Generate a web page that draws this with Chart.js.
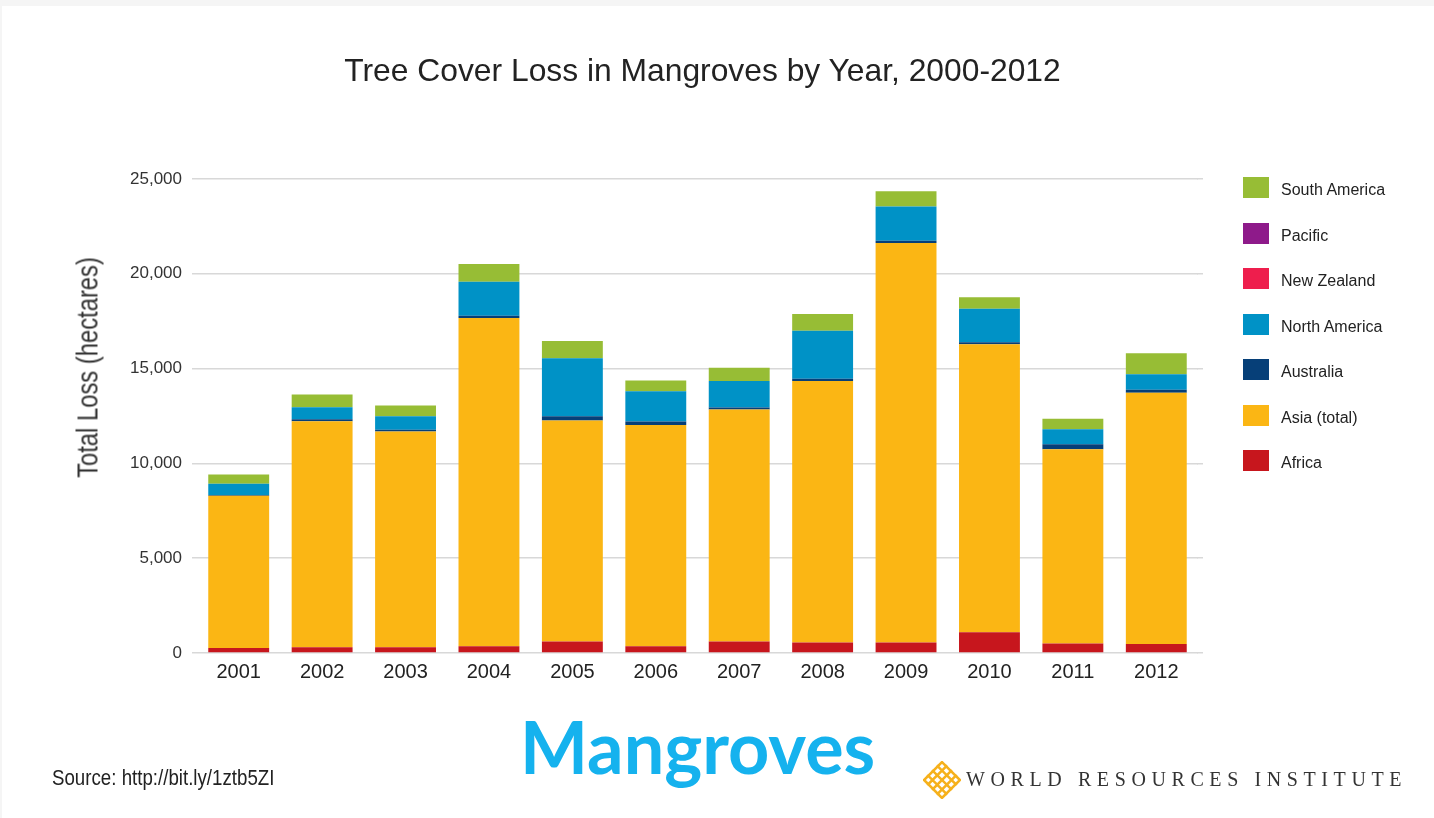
<!DOCTYPE html>
<html>
<head>
<meta charset="utf-8">
<script src="https://cdn.jsdelivr.net/npm/chart.js@4.4.1/dist/chart.umd.min.js"></script>
<style>
  html, body { margin: 0; padding: 0; }
  body { width: 1434px; height: 818px; background: #f5f5f5; position: relative; overflow: hidden; font-family: "Liberation Sans", Arial, sans-serif; }
  #panel { position: absolute; left: 2px; top: 6px; width: 1432px; height: 812px; background: #ffffff; }
  #chart { position: absolute; left: 0; top: 0; }
  .abs { position: absolute; white-space: nowrap; }
  #title { left: 0; width: 1405px; top: 55px; text-align: center; font-size: 31.8px; line-height: 31px; color: #222; }
  #ytitle { left: -62px; top: 353px; width: 300px; text-align: center; font-size: 29px; line-height: 29px; color: #333; transform: rotate(-90deg) scaleX(0.82); transform-origin: 50% 50%; }
  #source { left: 52px; top: 767px; font-size: 22px; line-height: 22px; color: #222; transform: scaleX(0.85); transform-origin: 0 50%; }
  #mangroves { left: 520px; top: 710px; font-family: Lato, "Open Sans", sans-serif; font-weight: 700; font-size: 72px; line-height: 72px; color: #15b2ee; }
  #wri { left: 966px; top: 769px; font-family: "Liberation Serif", "DejaVu Serif", serif; font-size: 20px; line-height: 20px; letter-spacing: 5.6px; color: #333; }
  #logo { position: absolute; left: 923px; top: 761px; }
  .lg-item { position: absolute; left: 1243px; height: 21px; }
  .lg-box { position: absolute; left: 0; top: 0; width: 26px; height: 21px; }
  .lg-text { position: absolute; left: 38px; top: 4px; font-size: 16px; line-height: 17px; color: #222; white-space: nowrap; }
</style>
</head>
<body>
<div id="panel"></div>
<canvas id="chart" width="1434" height="818"></canvas>
<div id="title" class="abs">Tree Cover Loss in Mangroves by Year, 2000-2012</div>
<div id="ytitle" class="abs">Total Loss (hectares)</div>
<div id="legend"></div>
<div id="source" class="abs">Source: http://bit.ly/1ztb5ZI</div>
<div id="mangroves" class="abs">Mangroves</div>
<svg id="logo" width="38" height="38" viewBox="0 0 36 36">
  <g stroke="#f6b11c" stroke-width="2.4" fill="none" stroke-linecap="square">
    <path d="M18 1 L35 18 L18 35 L1 18 Z"/>
    <path d="M9.5 9.5 L26.5 26.5 M9.5 26.5 L26.5 9.5"/>
    <path d="M5 14 L22 31 M14 5 L31 22 M5 22 L22 5 M14 31 L31 14"/>
  </g>
</svg>
<div id="wri" class="abs">WORLD RESOURCES INSTITUTE</div>
<script>
const years = ['2001','2002','2003','2004','2005','2006','2007','2008','2009','2010','2011','2012'];
const africa       = [260, 300, 300, 350, 600, 350, 600, 550, 560, 1100, 500, 470];
const asiaTotal    = [8040, 11920, 11380, 17320, 11660, 11680, 12240, 13800, 21060, 15180, 10250, 13250];
const australia    = [30, 110, 90, 120, 230, 180, 110, 120, 120, 110, 260, 160];
const northAmerica = [595, 630, 720, 1795, 3050, 1590, 1400, 2530, 1810, 1770, 790, 820];
const newZealand   = [0, 0, 0, 0, 0, 0, 0, 0, 0, 0, 0, 0];
const pacific      = [0, 0, 0, 0, 0, 0, 0, 0, 0, 0, 0, 0];
const southAmerica = [490, 670, 560, 930, 920, 570, 700, 880, 810, 600, 550, 1110];
const yTicks = [0, 5000, 10000, 15000, 20000, 25000];

const seriesNames  = ['Africa', 'Asia (total)', 'Australia', 'North America', 'New Zealand', 'Pacific', 'South America'];
const seriesValues = [africa, asiaTotal, australia, northAmerica, newZealand, pacific, southAmerica];
const seriesColors = ['#c7161d', '#fbb614', '#063f78', '#0092c6', '#ee1e4d', '#8e1a8a', '#97bd35'];

const datasets = seriesNames.map((name, i) => ({
  label: name,
  data: seriesValues[i],
  backgroundColor: seriesColors[i],
  borderWidth: 0,
  barPercentage: 0.73,
  categoryPercentage: 1.0
}));

// extend horizontal gridlines a little past the right edge of the plot, as in the reference
const gridExtend = {
  id: 'gridExtend',
  beforeDatasetsDraw(chart) {
    const { ctx, chartArea, scales } = chart;
    const lw = 1.5, half = lw / 2;
    ctx.save();
    ctx.strokeStyle = '#d8d8d8';
    ctx.lineWidth = lw;
    scales.y.ticks.forEach(t => {
      const y = Math.round(scales.y.getPixelForValue(t.value) - half) + half;
      ctx.beginPath();
      ctx.moveTo(chartArea.right - 1, y);
      ctx.lineTo(chartArea.right + 5, y);
      ctx.stroke();
    });
    ctx.restore();
  }
};

const chart = new Chart(document.getElementById('chart'), {
  type: 'bar',
  data: { labels: years, datasets: datasets },
  plugins: [gridExtend],
  options: {
    responsive: false,
    animation: false,
    layout: { padding: { top: 179, left: 40, right: 236, bottom: 125 } },
    plugins: { legend: { display: false }, title: { display: false }, tooltip: { enabled: false } },
    scales: {
      x: {
        stacked: true,
        grid: { display: false, drawTicks: false },
        border: { display: false },
        ticks: { color: '#222', font: { family: 'Liberation Sans', size: 20 }, padding: 7, maxRotation: 0 },
        afterFit: (s) => { s.height = 40; }
      },
      y: {
        stacked: true,
        min: 0,
        max: 25000,
        afterBuildTicks: (s) => { s.ticks = yTicks.map(v => ({ value: v })); },
        grid: { color: '#d8d8d8', lineWidth: 1.5, drawTicks: true, tickLength: 5 },
        border: { display: false },
        ticks: {
          color: '#333',
          font: { family: 'Liberation Sans', size: 17 },
          padding: 10,
          callback: (v) => v.toLocaleString('en-US')
        },
        afterFit: (s) => { s.width = 157; }
      }
    }
  }
});

// Legend (top to bottom reversed, as in the reference)
const legend = document.getElementById('legend');
chart.data.datasets.slice().reverse().forEach((ds, i) => {
  const item = document.createElement('div');
  item.className = 'lg-item';
  item.style.top = (177 + i * 45.5) + 'px';
  const box = document.createElement('div');
  box.className = 'lg-box';
  box.style.background = ds.backgroundColor;
  const txt = document.createElement('div');
  txt.className = 'lg-text';
  txt.textContent = ds.label;
  item.appendChild(box);
  item.appendChild(txt);
  legend.appendChild(item);
});
</script>
</body>
</html>
